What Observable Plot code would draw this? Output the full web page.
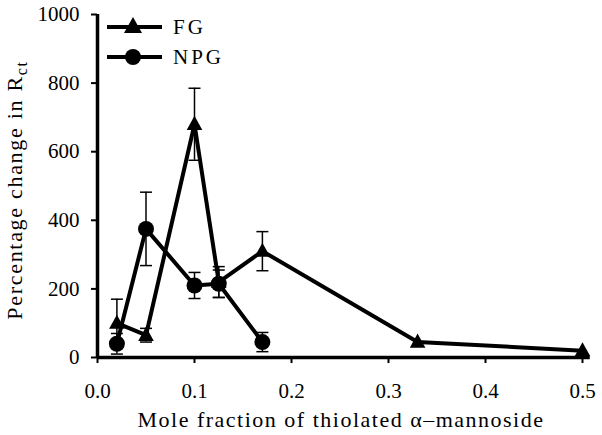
<!DOCTYPE html>
<html><head><meta charset="utf-8">
<script src="https://cdn.jsdelivr.net/npm/d3@7"></script>
<script src="https://cdn.jsdelivr.net/npm/@observablehq/plot@0.6"></script>
<style>
body{margin:0;background:#fff;}
#wrap{position:relative;width:602px;height:435px;}
</style>
</head><body><div id="wrap"></div>
<script>
const fgX = [0.02, 0.05, 0.1, 0.125, 0.17, 0.33, 0.5];
const fgY = [100, 65, 680, 220, 310, 45, 20];
const fgErr = [70, 20, 105, 45, 57, 0, 0];
const npgX = [0.02, 0.05, 0.1, 0.125, 0.17];
const npgY = [40, 375, 210, 215, 45];
const npgErr = [30, 107, 38, 40, 28];
const xTicks = [0, 0.1, 0.2, 0.3, 0.4, 0.5];
const yTicks = [0, 200, 400, 600, 800, 1000];
const seriesNames = ["FG", "NPG"];

const fg = fgX.map((x, i) => ({x, y: fgY[i], e: fgErr[i]}));
const npg = npgX.map((x, i) => ({x, y: npgY[i], e: npgErr[i]}));
const all = [...fg, ...npg].filter(d => d.e > 0);

const capSym = {draw(ctx, size){ const w = 6; ctx.moveTo(-w, 0); ctx.lineTo(w, 0); }};
const triSym = {draw(ctx, size){ const r = Math.sqrt(size)/2; ctx.moveTo(0, -r*1.2); ctx.lineTo(r*1.1, r*0.8); ctx.lineTo(-r*1.1, r*0.8); ctx.closePath(); }};

const FONT = "Liberation Serif, DejaVu Serif, serif";
const chart = Plot.plot({
  width: 602, height: 435,
  marginLeft: 97, marginRight: 20, marginTop: 14, marginBottom: 78,
  style: {fontSize: "21px", fontFamily: FONT, color: "#000", background: "#fff"},
  x: {domain: [0, 0.5], label: null},
  y: {domain: [0, 1000], label: null},
  marks: [
    Plot.axisX({ticks: xTicks, tickFormat: d3.format(".1f"), tickSize: 6, tickPadding: 20, strokeWidth: 2, label: null}),
    Plot.axisY({ticks: yTicks, tickFormat: d => String(d), tickSize: 6, tickPadding: 12, strokeWidth: 2, label: null}),
    Plot.ruleX([0], {stroke: "#000", strokeWidth: 3.5}),
    Plot.ruleY([0], {stroke: "#000", strokeWidth: 3.5, x1: 0, x2: 0.508}),
    Plot.ruleX(all, {x: "x", y1: d => d.y - d.e, y2: d => d.y + d.e, stroke: "#000", strokeWidth: 1.5}),
    Plot.dot(all, {x: "x", y: d => d.y + d.e, symbol: capSym, stroke: "#000", strokeWidth: 1.5}),
    Plot.dot(all, {x: "x", y: d => d.y - d.e, symbol: capSym, stroke: "#000", strokeWidth: 1.5}),
    Plot.line(fg, {x: "x", y: "y", stroke: "#000", strokeWidth: 4}),
    Plot.line(npg, {x: "x", y: "y", stroke: "#000", strokeWidth: 4}),
    Plot.dot(fg, {x: "x", y: "y", symbol: triSym, r: 8, fill: "#000", stroke: "none"}),
    Plot.dot(npg, {x: "x", y: "y", symbol: "circle", r: 8, fill: "#000", stroke: "none"})
  ]
});
const wrap = document.getElementById("wrap");
wrap.appendChild(chart);

const svg = d3.select(chart);
svg.append("text")
  .attr("x", 341).attr("y", 427)
  .attr("text-anchor", "middle")
  .attr("font-size", 22).attr("letter-spacing", "1.5px").attr("fill", "#000")
  .text("Mole fraction of thiolated \u03b1\u2013mannoside");
const yl = svg.append("text")
  .attr("transform", "translate(22,190) rotate(-90)")
  .attr("text-anchor", "middle")
  .attr("font-size", 22).attr("letter-spacing", "1.7px").attr("fill", "#000");
yl.append("tspan").text("Percentage change in R");
yl.append("tspan").attr("font-size", 16).attr("dy", 5).text("ct");

const leg = svg.append("g");
seriesNames.forEach((name, i) => {
  const y = 27 + i * 30;
  const g = leg.append("g").attr("transform", `translate(0,${y})`);
  g.append("line").attr("x1", 107).attr("x2", 162).attr("y1", 0).attr("y2", 0).attr("stroke", "#000").attr("stroke-width", 4);
  if (i === 0) g.append("path").attr("d", "M133,-10L142,6L124,6Z").attr("fill", "#000");
  else g.append("circle").attr("cx", 133).attr("cy", 0).attr("r", 8).attr("fill", "#000");
  g.append("text").attr("x", 173).attr("y", 0).attr("dy", "0.35em").attr("text-anchor", "start")
    .attr("font-size", 21).attr("letter-spacing", "3px").attr("fill", "#000").text(name);
});
svg.selectAll("text").attr("font-family", FONT).attr("font-weight", "normal");
</script>
</body></html>
